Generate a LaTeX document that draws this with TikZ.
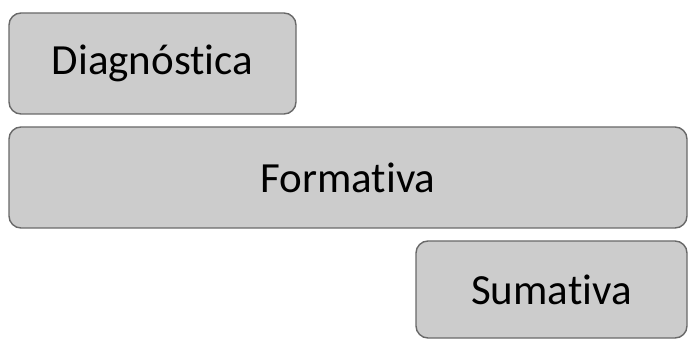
\documentclass[tikz,border=0pt]{standalone}
\usepackage{fontspec}
\setmainfont{Carlito}[Ligatures=NoCommon]
\usetikzlibrary{positioning}
\definecolor{evFill}{RGB}{204,204,204}
\definecolor{evLine}{RGB}{105,105,105}
\tikzset{
  evalbox/.style={
    fill=evFill,
    draw=evLine,
    rounded corners=12pt,
    line width=1.4pt,
    minimum height=101pt,
    inner sep=0pt,
    font=\fontsize{43}{46}\selectfont
  }
}

\begin{document}
\begin{tikzpicture}[x=1pt,y=-1pt]
  \useasboundingbox (0,0) rectangle (688,339);
  \node[evalbox,minimum width=287pt] (diag) at (152.5,63.5) {Diagnóstica};
  \node[evalbox,minimum width=678pt] (form) at (348,177.5) {Formativa};
  \node[evalbox,minimum width=271pt,minimum height=97pt] (suma) at (551.5,289.5) {Sumativa};
\end{tikzpicture}
\end{document}
